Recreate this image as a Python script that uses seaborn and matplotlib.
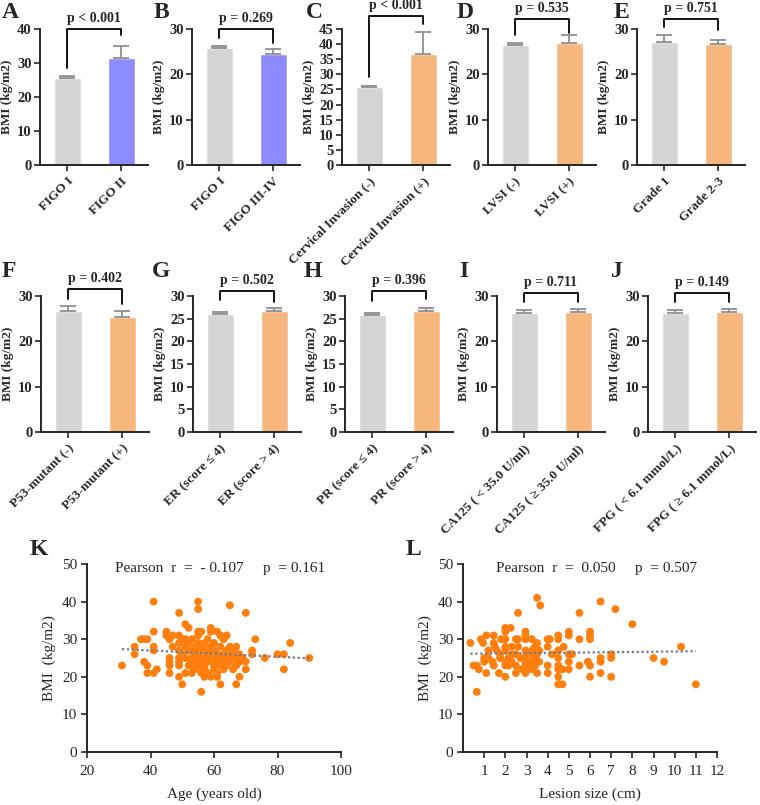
import numpy as np
import pandas as pd
import seaborn as sns
import matplotlib.pyplot as plt

sns.set_style('white')
plt.rcParams['font.family'] = ['Liberation Serif', 'DejaVu Serif']
plt.rcParams['axes.linewidth'] = 1.4
plt.rcParams['xtick.major.width'] = 1.2
plt.rcParams['ytick.major.width'] = 1.2
plt.rcParams['xtick.major.size'] = 4
plt.rcParams['ytick.major.size'] = 4
plt.rcParams['xtick.direction'] = 'out'
plt.rcParams['ytick.direction'] = 'out'
plt.rcParams['xtick.bottom'] = True
plt.rcParams['ytick.left'] = True

GRAY = '#d5d5d5'
BLUE = '#8c8cff'
ORANGE = '#f5b77e'
ERR = '#8f8f8f'
DOT = '#ff7f0e'

# ---- bar panel data (mean, upper error) ----
labels_A = ['FIGO I', 'FIGO II']
mean_A = [25.6, 31.4]
err_A = [0.5, 3.6]

labels_B = ['FIGO I', 'FIGO III-IV']
mean_B = [25.8, 24.5]
err_B = [0.4, 1.1]

labels_C = ['Cervical Invasion (-)', 'Cervical Invasion (+)']
mean_C = [25.8, 36.8]
err_C = [0.5, 7.1]

labels_D = ['LVSI (-)', 'LVSI (+)']
mean_D = [26.4, 27.0]
err_D = [0.5, 1.7]

labels_E = ['Grade 1', 'Grade 2-3']
mean_E = [27.2, 26.7]
err_E = [1.5, 0.9]

labels_F = ['P53-mutant (-)', 'P53-mutant (+)']
mean_F = [26.8, 25.4]
err_F = [0.9, 1.2]

labels_G = ['ER (score ≤ 4)', 'ER (score > 4)']
mean_G = [26.0, 26.7]
err_G = [0.4, 0.7]

labels_H = ['PR (score ≤ 4)', 'PR (score > 4)']
mean_H = [25.75, 26.7]
err_H = [0.45, 0.7]

labels_I = ['CA125 ( < 35.0 U/ml)', 'CA125 ( ≥ 35.0 U/ml)']
mean_I = [26.3, 26.55]
err_I = [0.55, 0.65]

labels_J = ['FPG ( < 6.1 mmol/L)', 'FPG ( ≥ 6.1 mmol/L)']
mean_J = [26.3, 26.55]
err_J = [0.55, 0.65]

p_text = ['p < 0.001', 'p = 0.269', 'p < 0.001', 'p = 0.535', 'p = 0.751',
          'p = 0.402', 'p = 0.502', 'p = 0.396', 'p = 0.711', 'p = 0.149']

# ---- scatter data ----
age_k = [31, 35, 35, 37, 38, 39, 38, 39, 39, 41, 41, 41, 41, 41, 42, 45, 45, 46, 46, 46,
         46, 46, 47, 47, 49, 49, 49, 49, 49, 49, 49, 49, 50, 50, 50, 51, 52, 51, 51, 51,
         51, 52, 52, 52, 53, 53, 53, 53, 53, 53, 54, 54, 54, 55, 55, 55, 55, 55, 55, 55,
         55, 55, 55, 56, 56, 56, 56, 56, 57, 57, 57, 57, 57, 57, 58, 58, 58, 58, 58, 59,
         59, 59, 59, 59, 60, 60, 60, 60, 60, 61, 61, 61, 61, 61, 62, 62, 62, 62, 62, 63,
         63, 63, 63, 64, 64, 64, 64, 65, 65, 65, 65, 66, 66, 66, 67, 67, 67, 67, 68, 68,
         68, 69, 70, 70, 70, 72, 72, 73, 76, 80, 82, 82, 84, 90]
bmi_k = [23, 28, 26, 30, 30, 30, 24, 23, 21, 40, 32, 28, 27, 21, 22, 32, 31, 30, 25, 24,
         23, 21, 31, 28, 37, 31, 29, 27, 25, 24, 23, 20, 18, 30, 26, 34, 33, 30, 28, 25,
         21, 23, 27, 29, 30, 27, 25, 24, 23, 21, 28, 26, 22, 40, 38, 32, 31, 29, 27, 25,
         24, 23, 26, 16, 32, 21, 28, 25, 29, 27, 25, 23, 20, 22, 30, 27, 24, 21, 26, 33,
         32, 20, 25, 28, 27, 25, 23, 22, 29, 32, 21, 20, 26, 24, 18, 31, 28, 25, 23, 30,
         26, 24, 22, 31, 25, 23, 27, 39, 28, 24, 26, 27, 22, 25, 18, 28, 25, 23, 24, 20,
         26, 25, 37, 22, 24, 27, 26, 30, 25, 26, 26, 22, 29, 25]

size_l = [0.35, 0.5, 0.65, 0.65, 0.75, 0.85, 0.95, 1.0, 1.0, 1.1, 1.1, 1.2, 1.2, 1.45, 1.45,
          1.5, 1.4, 1.45, 1.6, 1.7, 1.75, 1.75, 1.8, 2.0, 2.0, 2.0, 2.0, 2.0, 2.0, 2.0,
          2.0, 2.15, 2.15, 2.25, 2.3, 2.3, 2.3, 2.5, 2.5, 2.5, 2.5, 2.6, 2.6, 2.6, 2.7,
          2.8, 2.95, 2.95, 2.95, 2.95, 2.95, 2.95, 2.95, 2.95, 2.95, 3.0, 3.1, 3.1, 3.25,
          3.25, 3.25, 3.25, 3.3, 3.4, 3.4, 3.4, 3.5, 3.5, 3.5, 3.5, 3.5, 3.65, 3.6, 3.6,
          4.0, 4.1, 4.0, 4.0, 4.0, 4.2, 4.5, 4.5, 4.5, 4.5, 4.5, 4.5, 4.5, 4.5, 4.7, 4.7,
          4.75, 5.0, 5.0, 5.0, 5.0, 5.0, 5.15, 5.5, 5.5, 5.5, 6.0, 6.0, 6.0, 5.9, 6.0, 6.0,
          6.5, 6.5, 6.5, 6.5, 7.0, 7.0, 7.0, 7.2, 8.0, 9.0, 9.5, 10.3, 11.0]
bmi_l = [29, 23, 23, 16, 22, 30, 29, 25, 24, 31, 21, 27, 25, 31, 29,
         28, 24, 23, 27, 21, 26, 25, 30, 33, 32, 30, 28, 20, 23, 24,
         27, 25, 23, 33, 28, 26, 24, 21, 23, 26, 30, 37, 30, 28, 25,
         22, 32, 31, 30, 27, 25, 24, 23, 22, 21, 26, 26, 23, 30,
         27, 24, 22, 26, 28, 25, 23, 41, 21, 29, 26, 24, 39, 24, 27,
         30, 30, 28, 23, 21, 26, 31, 30, 27, 25, 23, 22, 20, 18, 18, 22,
         28, 32, 31, 26, 24, 22, 26, 37, 30, 23, 32, 31, 30, 24, 23, 20,
         40, 25, 24, 21, 26, 25, 20, 38, 34, 25, 24, 28, 18]

W, H = 760, 805
fig = plt.figure(figsize=(W / 100, H / 100), dpi=100)


def px_axes(left, top, width, height):
    return fig.add_axes([left / W, 1 - (top + height) / H, width / W, height / H])


def bar_panel(ax, labels, means, errs, color, ymax, ystep, ptxt, bracket):
    df = pd.DataFrame({'group': labels, 'bmi': means})
    sns.barplot(data=df, x='group', y='bmi', hue='group', palette=[GRAY, color],
                width=0.5, saturation=1, legend=False, ax=ax)
    ax.errorbar([0, 1], means, yerr=[[0, 0], errs], fmt='none', ecolor=ERR,
                elinewidth=1.3, capsize=6, capthick=1.3)
    ax.set_xlim(-0.5, 1.5)
    ax.set_ylim(0, ymax)
    ax.set_yticks(np.arange(0, ymax + 0.1, ystep))
    sns.despine(ax=ax)
    ax.set_xlabel('')
    ax.set_ylabel('BMI (kg/m2)', fontsize=9.5, fontweight='bold', labelpad=3)
    ax.tick_params(axis='y', labelsize=10.5, pad=2)
    for t in ax.get_yticklabels():
        t.set_fontweight('bold')
    ax.set_xticks([0, 1])
    ax.set_xticklabels(labels, rotation=45, ha='right', rotation_mode='anchor',
                       fontsize=9.5, fontweight='bold')
    yl, yt, yr = bracket
    ax.plot([0, 0, 1, 1], [yl, yt, yt, yr], color='black', lw=1.3, clip_on=False)
    ax.annotate(ptxt, xy=(0.5, yt), xytext=(0, 3), textcoords='offset points',
                ha='center', va='bottom', fontsize=10, fontweight='bold',
                annotation_clip=False)


panels = [
    ('A', labels_A, mean_A, err_A, BLUE, 40, 10, (28.5, 40, 38.3), 40, 29),
    ('B', labels_B, mean_B, err_B, BLUE, 30, 10, (28, 30, 27), 192, 29),
    ('C', labels_C, mean_C, err_C, ORANGE, 45, 5, (29.1, 49.3, 46.7), 342, 29),
    ('D', labels_D, mean_D, err_D, ORANGE, 30, 10, (28.7, 32.2, 29.1), 488, 29),
    ('E', labels_E, mean_E, err_E, ORANGE, 30, 10, (30.4, 32.2, 29.8), 637, 29),
    ('F', labels_F, mean_F, err_F, ORANGE, 30, 10, (29.3, 31.5, 28.2), 41, 296),
    ('G', labels_G, mean_G, err_G, ORANGE, 30, 5, (29.1, 31.0, 28.7), 193, 296),
    ('H', labels_H, mean_H, err_H, ORANGE, 30, 5, (29.0, 31.0, 29.3), 345, 296),
    ('I', labels_I, mean_I, err_I, ORANGE, 30, 10, (28.7, 30.7, 28.7), 497, 296),
    ('J', labels_J, mean_J, err_J, ORANGE, 30, 10, (28.7, 30.7, 28.7), 648, 296),
]
letter_pos = {'A': (2, 2), 'B': (154, 2), 'C': (306, 2), 'D': (457, 2), 'E': (614, 2),
              'F': (2, 261), 'G': (152, 261), 'H': (304, 261), 'I': (459, 261),
              'J': (611, 261), 'K': (30, 539), 'L': (406, 539)}

for i, (letter, labels, means, errs, color, ymax, ystep, br, left, top) in enumerate(panels):
    ax = px_axes(left, top, 108, 136)
    bar_panel(ax, labels, means, errs, color, ymax, ystep, p_text[i], br)

for letter, (x, y) in letter_pos.items():
    fig.text(x / W, 1 - y / H, letter, fontsize=17, fontweight='bold', va='top', ha='left')


def scatter_panel(ax, x, y, xlabel, xlim, xticks, rtxt, txt_x):
    sns.scatterplot(x=x, y=y, color=DOT, s=32, edgecolor='none', ax=ax)
    sns.regplot(x=np.array(x, float), y=np.array(y, float), scatter=False, ci=None,
                ax=ax, line_kws={'color': '#6f7b8a', 'lw': 1.6, 'ls': (0, (1, 1.2))})
    ax.set_xlim(*xlim)
    ax.set_ylim(0, 50)
    ax.set_xticks(xticks)
    ax.set_yticks(range(0, 51, 10))
    sns.despine(ax=ax)
    ax.tick_params(labelsize=11, pad=5)
    ax.tick_params(axis='y', pad=3)
    ax.set_xlabel(xlabel, fontsize=11, labelpad=7)
    ax.set_ylabel('BMI  (kg/m2)', fontsize=11, labelpad=4)
    ax.text(txt_x, 48.7, rtxt, ha='center', va='center', fontsize=11)


axk = px_axes(87, 564, 254, 188)
scatter_panel(axk, age_k, bmi_k, 'Age (years old)', (20, 100), range(20, 101, 20),
              'Pearson  r  =  - 0.107     p  = 0.161', 62)

axl = px_axes(463, 564, 254, 188)
scatter_panel(axl, size_l, bmi_l, 'Lesion size (cm)', (0, 12), range(1, 13),
              'Pearson  r  =  0.050     p  = 0.507', 6.3)

plt.savefig('out.png', dpi=100)
